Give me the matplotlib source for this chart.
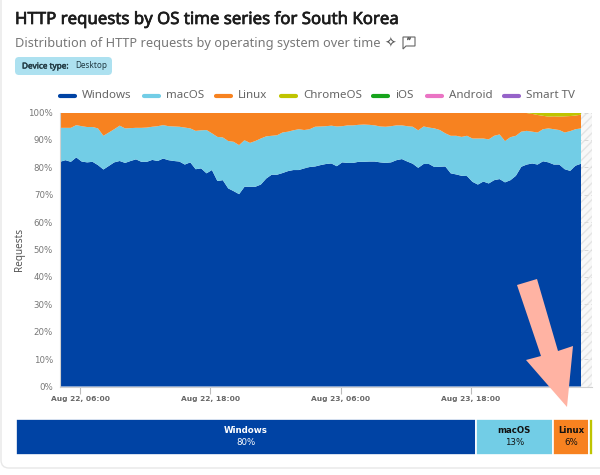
import matplotlib

matplotlib.use("Agg")
import matplotlib.patheffects as pe
import matplotlib.pyplot as plt
import numpy as np
from matplotlib.patches import FancyBboxPatch, Polygon

W, H = 600, 475

# upper edge of each stacked band, in %, one reading every 30 minutes
windows_top = [
    82.0, 82.6, 82.0, 83.6, 82.1, 81.8, 82.0, 80.8, 79.2, 80.5, 81.8, 82.3, 81.6, 82.3, 82.9, 82.0,
    82.0, 82.7, 82.3, 83.2, 82.6, 82.3, 82.1, 81.0, 81.8, 79.3, 79.6, 77.8, 79.0, 75.0, 75.3, 72.3,
    71.3, 70.2, 72.9, 72.9, 72.9, 73.7, 75.9, 77.3, 77.3, 77.9, 78.6, 79.0, 79.0, 79.6, 80.1, 80.3,
    80.8, 81.2, 81.4, 80.4, 81.8, 81.6, 81.6, 82.0, 82.0, 82.1, 82.1, 81.8, 81.6, 81.8, 82.6, 83.0,
    82.1, 81.3, 79.8, 81.2, 81.2, 80.1, 80.2, 80.3, 77.8, 77.4, 76.9, 76.8, 74.7, 73.7, 74.8, 74.1,
    75.3, 75.7, 74.5, 75.3, 76.9, 80.2, 81.0, 81.4, 81.0, 82.2, 81.8, 81.0, 81.0, 79.3, 78.7, 80.6,
    81.3,
]
macos_top = [
    94.4, 94.4, 94.4, 95.4, 95.0, 94.7, 94.7, 94.2, 91.5, 92.7, 93.9, 95.2, 94.2, 94.3, 94.4, 94.4,
    94.5, 94.8, 95.0, 95.4, 95.0, 94.9, 94.8, 94.5, 94.2, 93.3, 93.5, 93.6, 92.4, 91.1, 90.9, 89.6,
    89.3, 88.1, 89.9, 88.9, 89.6, 90.5, 91.3, 91.5, 91.7, 92.7, 93.0, 93.5, 93.9, 93.6, 93.9, 94.8,
    94.9, 95.0, 95.2, 94.9, 95.0, 95.3, 95.3, 95.5, 95.6, 95.5, 95.3, 94.9, 94.8, 95.0, 95.3, 95.3,
    95.0, 94.8, 93.5, 94.9, 94.5, 94.2, 93.6, 92.4, 91.5, 91.5, 91.1, 91.5, 90.5, 90.5, 90.5, 90.2,
    91.5, 92.0, 89.6, 91.0, 91.5, 93.0, 93.3, 93.0, 92.7, 93.9, 94.2, 93.9, 93.6, 92.7, 93.2, 93.9,
    94.2,
]
chromeos_share = [0.0] * 85 + [0.1, 0.2, 0.5, 0.9, 1.2, 1.5, 1.4, 1.5, 1.4, 1.3, 1.1, 0.8]

tick_hours = [1.85, 13.85, 25.85, 37.85]
tick_labels = ["Aug 22, 06:00", "Aug 22, 18:00", "Aug 23, 06:00", "Aug 23, 18:00"]
pct_ticks = [0, 10, 20, 30, 40, 50, 60, 70, 80, 90, 100]

legend_names = ["Windows", "macOS", "Linux", "ChromeOS", "iOS", "Android", "Smart TV"]
legend_colors = ["#0043a4", "#72cde6", "#f78220", "#bfc400", "#17a41c", "#ea74c4", "#9663c9"]
legend_x = [60, 144, 216, 281, 373, 427, 504]

summary_names = ["Windows", "macOS", "Linux", "ChromeOS"]
summary_values = [79.5, 13.4, 6.2, 0.6]
summary_labels = ["80%", "13%", "6%", ""]


def fx(px):
    return px / W


def fy(py):
    return 1 - py / H


def px_axes(left, top, right, bottom):
    return fig.add_axes([fx(left), fy(bottom), (right - left) / W, (bottom - top) / H])


def fake_bold(width, color):
    # Noto Sans only comes as a regular weight here
    return [pe.withStroke(linewidth=width, foreground=color)]


plt.rcParams["font.family"] = ["Noto Sans", "DejaVu Sans"]
plt.rcParams["hatch.color"] = "#e4e4e4"
fig = plt.figure(figsize=(W / 100, H / 100), dpi=100)

# card behind everything
bg = fig.add_axes([0, 0, 1, 1])
bg.set_xlim(0, W)
bg.set_ylim(H, 0)
bg.axis("off")
bg.add_patch(
    FancyBboxPatch(
        (1, -12), W + 20, 480,
        boxstyle="round,pad=0,rounding_size=8",
        fc="white", ec="#e8e8e8", lw=1,
    )
)
bg.text(15, 20, "HTTP requests by OS time series for South Korea",
        fontsize=12.1, color="#1c1c1c", va="center",
        path_effects=fake_bold(0.5, "#1c1c1c"))
bg.text(15, 43.5, "Distribution of HTTP requests by operating system over time",
        fontsize=9.2, color="#777777", va="center")
bg.text(390, 43.5, "\u2727", fontsize=10, color="#555555", va="center", ha="center",
        family="DejaVu Sans")
bg.add_patch(Polygon([(403, 37), (415, 37), (415, 46), (406, 46), (403, 49)],
                     fc="white", ec="#666666", lw=0.8))
bg.text(409, 42, "\u201d", fontsize=7, color="#555555", va="center", ha="center",
        path_effects=fake_bold(0.3, "#555555"))
bg.add_patch(
    FancyBboxPatch(
        (15, 57), 97, 18,
        boxstyle="round,pad=0,rounding_size=4",
        fc="#ade1f0", ec="none",
    )
)
bg.text(22, 66, "Device type:", fontsize=5.9, color="#223b44", va="center",
        path_effects=fake_bold(0.3, "#223b44"))
bg.text(75, 66, "Desktop", fontsize=5.9, color="#223b44", va="center")

for name, color, lx in zip(legend_names, legend_colors, legend_x):
    bg.plot([lx, lx + 15], [96, 96], color=color, lw=3, solid_capstyle="round")
    bg.text(lx + 22, 96, name, fontsize=8.3, color="#666666", va="center")

# main stacked area
ax = px_axes(60, 112.5, 592, 386.5)
hours = np.arange(len(windows_top)) * 0.5
windows_top = np.array(windows_top)
macos_top = np.array(macos_top)
linux_top = 100 - np.array(chromeos_share)
ax.stackplot(
    hours,
    windows_top,
    macos_top - windows_top,
    linux_top - macos_top,
    np.array(chromeos_share),
    colors=legend_colors[:4],
    linewidth=0,
    zorder=2,
)
xmax = hours[-1] * 532 / 521
ax.set_xlim(0, xmax)
ax.set_ylim(0, 100)
ax.axvspan(hours[-1], xmax, fc="#f8f8f8", ec="#e4e4e4", hatch="////", lw=0, zorder=0.2)
ax.grid(axis="y", color="#d8d8d8", ls=(0, (4, 3)), lw=0.7)
ax.set_axisbelow(True)

ax.set_xticks(tick_hours)
ax.set_xticklabels(tick_labels, fontsize=5.4, fontweight="bold", color="#666666", family="DejaVu Sans")
ax.set_yticks(pct_ticks)
ax.set_yticklabels([f"{p}%" for p in pct_ticks], fontsize=6.2, color="#777777", family="DejaVu Sans")
ax.tick_params(axis="x", length=5, color="#bbbbbb", width=0.8, pad=2)
ax.tick_params(axis="y", length=0, pad=5)
for side in ["top", "right"]:
    ax.spines[side].set_visible(False)
ax.spines["left"].set_color("#d0d0d0")
ax.spines["bottom"].set_color("#d0d0d0")
ax.set_ylabel("Requests", fontsize=7.2, color="#555555", va="center")
ax.yaxis.set_label_coords(-40 / 532, 0.5)

# summary bar
bar = px_axes(15.5, 418.5, 592.5, 455)
bar.set_xlim(0, sum(summary_values))
bar.set_ylim(0, 1)
bar.axis("off")
left = 0
for name, val, lab, color in zip(summary_names, summary_values, summary_labels, legend_colors):
    bar.barh(0.5, val, left=left, height=1, color=color, edgecolor="white", linewidth=1.2)
    if lab:
        tc = "white" if name == "Windows" else "#111111"
        mid = left + val / 2
        bar.text(mid, 0.66, name, ha="center", va="center", fontsize=6.2, fontweight="bold",
                 color=tc, family="DejaVu Sans")
        bar.text(mid, 0.33, lab, ha="center", va="center", fontsize=6.2, color=tc,
                 family="DejaVu Sans")
    left += val

# annotation arrow painted over the chart
over = fig.add_axes([0, 0, 1, 1], facecolor="none")
over.set_xlim(0, W)
over.set_ylim(H, 0)
over.axis("off")
over.add_patch(
    Polygon(
        [(517, 285), (537, 279), (558, 351), (573, 346), (567, 407), (526, 360), (541, 356)],
        fc="#ffb3a3", ec="none",
    )
)

fig.savefig("out.png", dpi=100)
